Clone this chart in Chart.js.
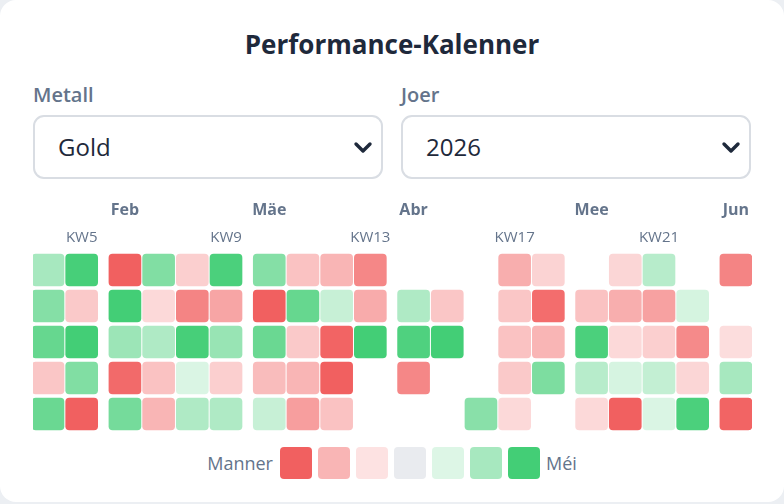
<!DOCTYPE html>
<html lang="lb">
<head>
<meta charset="utf-8">
<title>Performance-Kalenner</title>
<script src="https://cdn.jsdelivr.net/npm/chart.js@4.4.1/dist/chart.umd.min.js"></script>
<style>
  html, body { margin: 0; padding: 0; }
  body { width: 784px; height: 504px; background: #eceff3; font-family: 'Open Sans', sans-serif; overflow: hidden; }
  .card { position: absolute; left: 0; top: 0; width: 784px; height: 502px; background: #fff; border-radius: 16px; }
  h1 { position: absolute; left: 0; top: 26px; width: 784px; margin: 0; text-align: center;
       font-size: 26px; line-height: 36px; font-weight: 700; color: #1e293b; }
  .lbl { position: absolute; top: 83px; font-size: 20px; line-height: 24px; font-weight: 600; color: #64748b; }
  .sel { position: absolute; top: 115px; width: 350px; height: 64px; box-sizing: border-box;
         border: 2px solid #d9dde3; border-radius: 11px; background: #fff; }
  .sel span { position: absolute; left: 23px; top: 14px; font-size: 24px; line-height: 32px; color: #1e293b; }
  .sel svg { position: absolute; right: 8px; top: 24px; }
  #calWrap { position: absolute; left: 0; top: 190px; width: 784px; height: 250px; }
  .legend { position: absolute; left: 0; top: 447px; width: 784px; height: 32px; display: flex;
            justify-content: center; align-items: center; gap: 6px; font-size: 18px; color: #64748b; }
  .legend .sw { width: 32px; height: 32px; border-radius: 4px; }
  .legend .t1 { margin-right: 1px; }
</style>
</head>
<body>
<div class="card">
  <h1>Performance-Kalenner</h1>
  <div class="lbl" style="left:33px">Metall</div>
  <div class="lbl" style="left:401px">Joer</div>
  <div class="sel" style="left:33px"><span>Gold</span>
    <svg width="20" height="14" viewBox="0 0 20 14"><polyline points="3,3 10,10 17,3" fill="none" stroke="#1e293b" stroke-width="3.4" stroke-linecap="round" stroke-linejoin="round"/></svg></div>
  <div class="sel" style="left:401px"><span>2026</span>
    <svg width="20" height="14" viewBox="0 0 20 14"><polyline points="3,3 10,10 17,3" fill="none" stroke="#1e293b" stroke-width="3.4" stroke-linecap="round" stroke-linejoin="round"/></svg></div>
  <div id="calWrap"><canvas id="calCanvas"></canvas></div>
  <div class="legend" id="legend"></div>
</div>

<script>
// ISO calendar weeks shown (2026) and the month each week belongs to (by its Thursday)
const weeks = [3, 4, 5, 6, 7, 8, 9, 10, 11, 12, 13, 14, 15, 16, 17, 18, 19, 20, 21, 22, 23];
const weekMonth = [1, 1, 1, 2, 2, 2, 2, 3, 3, 3, 3, 4, 4, 4, 4, 4, 5, 5, 5, 5, 6];
const monthNames = ['Jan', 'Feb', 'Mäe', 'Abr', 'Mee', 'Jun'];
const dayNames = ['Méindeg', 'Dënschdeg', 'Mëttwoch', 'Donneschdeg', 'Freideg'];

// daily change in % per weekday (null = no trading data)
const monVals = [1.8, 0.7, 1.95, -2.0, 1.2, -0.3, 1.9, 1.15, -0.5, -0.7, -1.4, null, null, null, -0.8, -0.25, null, -0.2, 0.5, null, -1.45];
const tueVals = [0.3, 1.15, -0.4, 2.0, -0.15, -1.45, -0.95, -2.0, 1.55, 0.3, -0.85, 0.6, -0.45, null, -0.45, -1.8, -0.5, -0.8, -1.0, 0.12, null];
const wedVals = [-0.5, 1.55, 2.0, 0.85, 0.6, 1.95, 0.9, 1.5, -0.4, -1.95, 2.0, 1.85, 2.0, null, -0.5, -0.7, 1.9, -0.15, -0.3, -1.35, -0.1];
const thuVals = [0.2, -0.45, 1.2, -1.85, -0.5, 0.05, -0.3, -0.6, -0.7, -2.0, null, -1.4, null, null, -0.4, 1.25, 0.5, 0.1, 0.35, -0.2, 0.7];
const friVals = [0.2, 1.5, -2.0, 1.35, -0.7, 0.6, 0.6, 0.3, -1.05, -0.5, null, null, null, 1.1, -0.15, null, -0.15, -2.0, 0.05, 1.9, -1.95];

const legendVals = [-2, -0.7, -0.01, 0, 0.01, 0.7, 2];

const MONTH_GAP = 0.284;   // extra space between months, in weeks
const textGrey = '#64748b';

// red for losses, green for gains, stronger with bigger moves
function colorFor(v) {
  if (v === 0) return '#e9ebef';
  const a = 0.15 + 0.7 * Math.min(Math.abs(v) / 2, 1);
  return v > 0 ? `rgba(34, 197, 94, ${a.toFixed(3)})` : `rgba(239, 68, 68, ${a.toFixed(3)})`;
}

const xPos = weeks.map((w, i) => w + MONTH_GAP * (weekMonth[i] - 1));

// month ticks at the first week of each month, KW ticks every 4 weeks
const monthTicks = [];
const monthTickLabels = [];
weekMonth.forEach((m, i) => {
  if (i > 0 && m !== weekMonth[i - 1]) {
    monthTicks.push(xPos[i]);
    monthTickLabels.push(monthNames[m - 1]);
  }
});
const kwTicks = [];
const kwTickLabels = [];
weeks.forEach((w, i) => {
  if (w % 4 === 1) {
    kwTicks.push(xPos[i]);
    kwTickLabels.push('KW' + w);
  }
});

function buildDataset(vals, row) {
  const data = [];
  vals.forEach((v, i) => {
    if (v === null) return;
    data.push({ x: xPos[i], y: [row - 0.444, row + 0.444], v: v });
  });
  return {
    label: dayNames[row],
    data: data,
    grouped: false,
    barThickness: 32,
    borderRadius: 4,
    borderSkipped: false,
    borderWidth: 0,
    backgroundColor: ctx => colorFor(ctx.raw.v)
  };
}

const X_MIN = 3.555;
const X_MAX = 24.897;

const topAxis = (ticks, labels, weight, font, pad) => ({
  type: 'linear',
  position: 'top',
  min: X_MIN,
  max: X_MAX,
  offset: false,
  weight: weight,
  grid: { display: false, drawTicks: false, offset: false },
  border: { display: false },
  afterBuildTicks: s => { s.ticks = ticks.map(v => ({ value: v })); },
  afterFit: s => { s.height = 28; },
  ticks: {
    autoSkip: false,
    maxRotation: 0,
    padding: pad,
    color: textGrey,
    font: font,
    callback: (v, i) => labels[i]
  }
});

Chart.defaults.font.family = "'Open Sans', sans-serif";

new Chart(document.getElementById('calCanvas'), {
  type: 'bar',
  data: {
    datasets: [monVals, tueVals, wedVals, thuVals, friVals].map((vals, r) => buildDataset(vals, r))
  },
  options: {
    responsive: true,
    maintainAspectRatio: false,
    animation: false,
    events: [],
    layout: { padding: { left: 33, right: 32, top: 6, bottom: 8 } },
    plugins: { legend: { display: false }, tooltip: { enabled: false } },
    scales: {
      x: { type: 'linear', min: X_MIN, max: X_MAX, offset: false, display: false },
      y: { type: 'linear', min: -0.5, max: 4.5, reverse: true, display: false },
      kw: topAxis(kwTicks, kwTickLabels, 0, { size: 15 }, 5),
      mon: topAxis(monthTicks, monthTickLabels, 1, { size: 16, weight: 'bold' }, 4)
    }
  }
});

// colour legend
const legend = document.getElementById('legend');
legend.innerHTML = '<span class="t1">Manner</span>' +
  legendVals.map(v => `<div class="sw" style="background:${colorFor(v)}"></div>`).join('') +
  '<span>Méi</span>';
</script>
</body>
</html>
